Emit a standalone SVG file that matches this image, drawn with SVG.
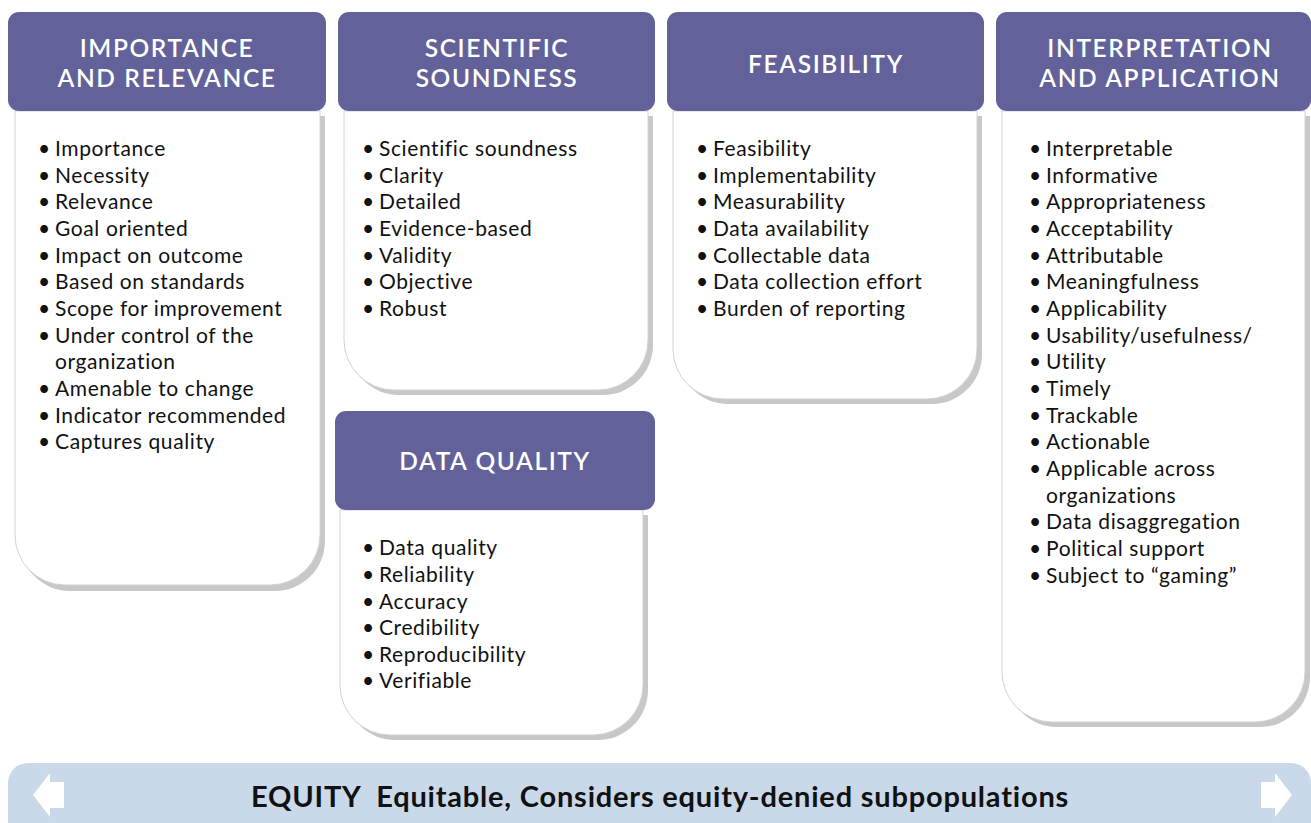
<svg xmlns="http://www.w3.org/2000/svg" width="1311" height="823" viewBox="0 0 1311 823">
<style>
.hdr{fill:#63619a}
.body{fill:#ffffff;stroke:#d2d2d4;stroke-width:1}
.shadow{fill:#c8c8ca}
.title{font-family:"Lato","Noto Sans",sans-serif;font-weight:600;font-size:24.5px;letter-spacing:1.6px;fill:#ffffff;text-anchor:middle}
.item{font-family:"Lato","Noto Sans",sans-serif;font-size:21px;letter-spacing:0.6px;fill:#111111}
.eq{font-family:"Lato","Noto Sans",sans-serif;font-weight:700;font-size:29px;letter-spacing:0.8px;fill:#111111;text-anchor:middle}
</style>
<rect width="1311" height="823" fill="#ffffff"/>

<g id="importance-relevance">
<path class="shadow" d="M20 116 H325 V541 A50 50 0 0 1 275 591 H70 A50 50 0 0 1 20 541 Z"/>
<path class="body" d="M15 111 H320 V535 A50 50 0 0 1 270 585 H65 A50 50 0 0 1 15 535 Z"/>
<rect class="hdr" x="8" y="12" width="318" height="99" rx="11"/>
<text class="title" x="167" y="57">IMPORTANCE</text>
<text class="title" x="167" y="87">AND RELEVANCE</text>
<g class="item">
<text y="156"><tspan x="38">•</tspan><tspan x="55">Importance</tspan></text>
<text y="183"><tspan x="38">•</tspan><tspan x="55">Necessity</tspan></text>
<text y="209"><tspan x="38">•</tspan><tspan x="55">Relevance</tspan></text>
<text y="236"><tspan x="38">•</tspan><tspan x="55">Goal oriented</tspan></text>
<text y="263"><tspan x="38">•</tspan><tspan x="55">Impact on outcome</tspan></text>
<text y="289"><tspan x="38">•</tspan><tspan x="55">Based on standards</tspan></text>
<text y="316"><tspan x="38">•</tspan><tspan x="55">Scope for improvement</tspan></text>
<text y="343"><tspan x="38">•</tspan><tspan x="55">Under control of the</tspan></text>
<text y="369"><tspan x="55">organization</tspan></text>
<text y="396"><tspan x="38">•</tspan><tspan x="55">Amenable to change</tspan></text>
<text y="423"><tspan x="38">•</tspan><tspan x="55">Indicator recommended</tspan></text>
<text y="449"><tspan x="38">•</tspan><tspan x="55">Captures quality</tspan></text>
</g>
</g>

<g id="scientific-soundness">
<path class="shadow" d="M349 116 H653 V345 A50 50 0 0 1 603 395 H399 A50 50 0 0 1 349 345 Z"/>
<path class="body" d="M344 111 H648 V340 A50 50 0 0 1 598 390 H394 A50 50 0 0 1 344 340 Z"/>
<rect class="hdr" x="338" y="12" width="317" height="99" rx="11"/>
<text class="title" x="497" y="57">SCIENTIFIC</text>
<text class="title" x="497" y="87">SOUNDNESS</text>
<g class="item">
<text y="156"><tspan x="362">•</tspan><tspan x="379">Scientific soundness</tspan></text>
<text y="183"><tspan x="362">•</tspan><tspan x="379">Clarity</tspan></text>
<text y="209"><tspan x="362">•</tspan><tspan x="379">Detailed</tspan></text>
<text y="236"><tspan x="362">•</tspan><tspan x="379">Evidence-based</tspan></text>
<text y="263"><tspan x="362">•</tspan><tspan x="379">Validity</tspan></text>
<text y="289"><tspan x="362">•</tspan><tspan x="379">Objective</tspan></text>
<text y="316"><tspan x="362">•</tspan><tspan x="379">Robust</tspan></text>
</g>
</g>

<g id="data-quality">
<path class="shadow" d="M345 515 H648 V690 A50 50 0 0 1 598 740 H395 A50 50 0 0 1 345 690 Z"/>
<path class="body" d="M340 510 H643 V685 A50 50 0 0 1 593 735 H390 A50 50 0 0 1 340 685 Z"/>
<rect class="hdr" x="335" y="411" width="320" height="99" rx="11"/>
<text class="title" x="495" y="470">DATA QUALITY</text>
<g class="item">
<text y="555"><tspan x="362">•</tspan><tspan x="379">Data quality</tspan></text>
<text y="582"><tspan x="362">•</tspan><tspan x="379">Reliability</tspan></text>
<text y="609"><tspan x="362">•</tspan><tspan x="379">Accuracy</tspan></text>
<text y="635"><tspan x="362">•</tspan><tspan x="379">Credibility</tspan></text>
<text y="662"><tspan x="362">•</tspan><tspan x="379">Reproducibility</tspan></text>
<text y="688"><tspan x="362">•</tspan><tspan x="379">Verifiable</tspan></text>
</g>
</g>

<g id="feasibility">
<path class="shadow" d="M678 116 H982 V354 A50 50 0 0 1 932 404 H728 A50 50 0 0 1 678 354 Z"/>
<path class="body" d="M673 111 H977 V349 A50 50 0 0 1 927 399 H723 A50 50 0 0 1 673 349 Z"/>
<rect class="hdr" x="667" y="12" width="317" height="99" rx="11"/>
<text class="title" x="826" y="73">FEASIBILITY</text>
<g class="item">
<text y="156"><tspan x="696">•</tspan><tspan x="713">Feasibility</tspan></text>
<text y="183"><tspan x="696">•</tspan><tspan x="713">Implementability</tspan></text>
<text y="209"><tspan x="696">•</tspan><tspan x="713">Measurability</tspan></text>
<text y="236"><tspan x="696">•</tspan><tspan x="713">Data availability</tspan></text>
<text y="263"><tspan x="696">•</tspan><tspan x="713">Collectable data</tspan></text>
<text y="289"><tspan x="696">•</tspan><tspan x="713">Data collection effort</tspan></text>
<text y="316"><tspan x="696">•</tspan><tspan x="713">Burden of reporting</tspan></text>
</g>
</g>

<g id="interpretation-application">
<path class="shadow" d="M1007 116 H1310 V677 A50 50 0 0 1 1260 727 H1057 A50 50 0 0 1 1007 677 Z"/>
<path class="body" d="M1002 111 H1305 V672 A50 50 0 0 1 1255 722 H1052 A50 50 0 0 1 1002 672 Z"/>
<rect class="hdr" x="996" y="12" width="315" height="99" rx="11"/>
<text class="title" x="1160" y="57">INTERPRETATION</text>
<text class="title" x="1160" y="87">AND APPLICATION</text>
<g class="item">
<text y="156"><tspan x="1029">•</tspan><tspan x="1046">Interpretable</tspan></text>
<text y="183"><tspan x="1029">•</tspan><tspan x="1046">Informative</tspan></text>
<text y="209"><tspan x="1029">•</tspan><tspan x="1046">Appropriateness</tspan></text>
<text y="236"><tspan x="1029">•</tspan><tspan x="1046">Acceptability</tspan></text>
<text y="263"><tspan x="1029">•</tspan><tspan x="1046">Attributable</tspan></text>
<text y="289"><tspan x="1029">•</tspan><tspan x="1046">Meaningfulness</tspan></text>
<text y="316"><tspan x="1029">•</tspan><tspan x="1046">Applicability</tspan></text>
<text y="343"><tspan x="1029">•</tspan><tspan x="1046">Usability/usefulness/</tspan></text>
<text y="369"><tspan x="1029">•</tspan><tspan x="1046">Utility</tspan></text>
<text y="396"><tspan x="1029">•</tspan><tspan x="1046">Timely</tspan></text>
<text y="423"><tspan x="1029">•</tspan><tspan x="1046">Trackable</tspan></text>
<text y="449"><tspan x="1029">•</tspan><tspan x="1046">Actionable</tspan></text>
<text y="476"><tspan x="1029">•</tspan><tspan x="1046">Applicable across</tspan></text>
<text y="503"><tspan x="1046">organizations</tspan></text>
<text y="529"><tspan x="1029">•</tspan><tspan x="1046">Data disaggregation</tspan></text>
<text y="556"><tspan x="1029">•</tspan><tspan x="1046">Political support</tspan></text>
<text y="583"><tspan x="1029">•</tspan><tspan x="1046">Subject to “gaming”</tspan></text>
</g>
</g>

<g id="equity">
<rect x="8" y="763" width="1303" height="80" rx="20" fill="#c9d9ea"/>
<polygon points="33,795 50,773 50,782 64,782 64,808 50,808 50,817" fill="#ffffff"/>
<polygon points="1292,795 1275,773 1275,782 1261,782 1261,808 1275,808 1275,817" fill="#ffffff"/>
<text class="eq" x="660" y="807" xml:space="preserve">EQUITY  Equitable, Considers equity-denied subpopulations</text>
</g>

<g id="connectors"></g>
</svg>
